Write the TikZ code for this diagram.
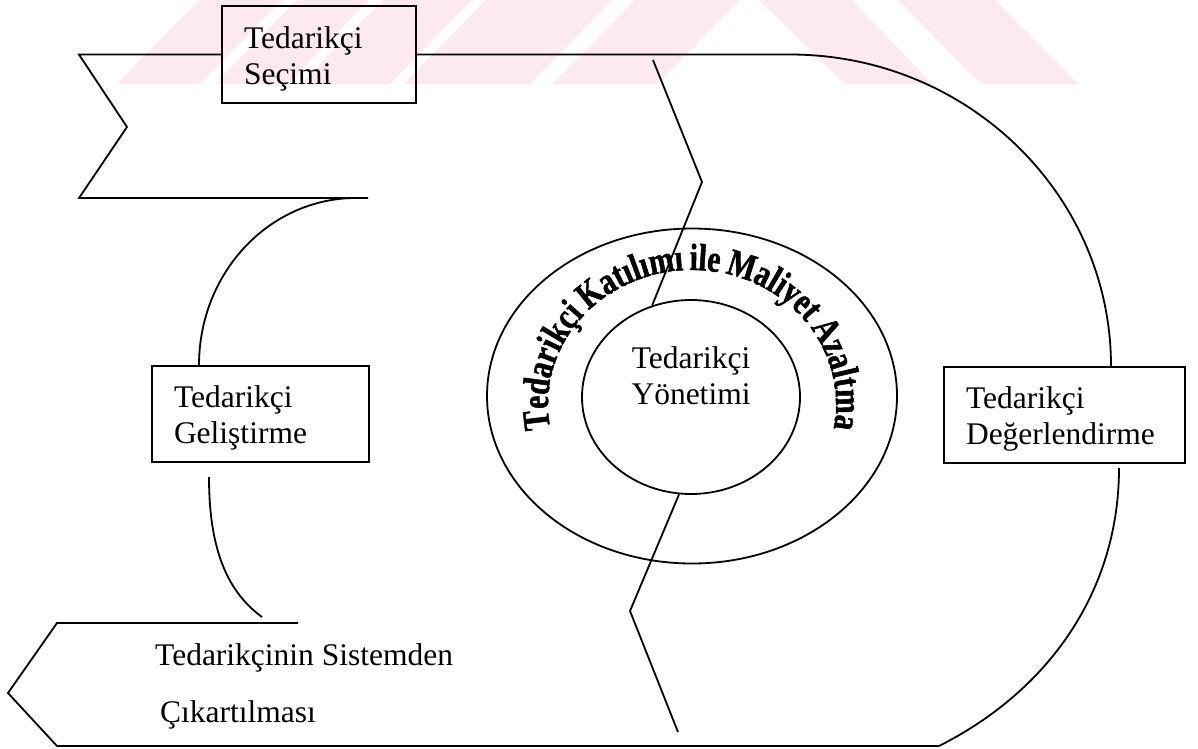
\documentclass[tikz,border=0pt]{standalone}
\usepackage{fontspec}
\setmainfont{Liberation Serif}
\newfontfamily\arcfont{Liberation Serif}[FakeStretch=0.78, WordSpace=0.8, FakeBold=1.2]
\usetikzlibrary{decorations.text,shapes.geometric}
\definecolor{wmpink}{RGB}{253,234,238}
\tikzset{
  ln/.style={line width=1.8pt, line join=miter, line cap=butt},
  boxnode/.style={draw, line width=1.8pt, rectangle, inner ysep=0pt, inner xsep=22pt, align=left, font=\fontsize{31.5}{36}\selectfont},
  lbl/.style={inner sep=0pt, font=\fontsize{31.5}{36}\selectfont},
  ring/.style={draw, ellipse, line width=1.8pt, inner sep=0pt},
  wmstripe/.style={fill=wmpink, draw=none},
}
\begin{document}
\begin{tikzpicture}[x=1pt,y=-1pt]
\useasboundingbox (0,0) rectangle (1198,748);
% faint watermark band
\fill[wmstripe] (117,84) -- (199,0) -- (282,0) -- (200,84) -- cycle;
\fill[wmstripe] (215,84) -- (297,0) -- (369,0) -- (287,84) -- cycle;
\fill[wmstripe] (301,84) -- (383,0) -- (472,0) -- (390,84) -- cycle;
\fill[wmstripe] (404,84) -- (486,0) -- (612,0) -- (530,84) -- cycle;
\fill[wmstripe] (553,84) -- (635,0) -- (740,0) -- (657,84) -- cycle;
\fill[wmstripe] (759,0) -- (852,0) -- (932,84) -- (845,84) -- cycle;
\fill[wmstripe] (898,0) -- (995,0) -- (1078,84) -- (981,84) -- cycle;

% boxes
\node[boxnode, text width=150pt, minimum height=97pt] (sec) at (319,54.5) {\rule{0pt}{30pt}Tedarikçi\\Seçimi};
\node[boxnode, text width=173pt, minimum height=96pt] (gel) at (260.5,414) {\rule{0pt}{30pt}Tedarikçi\\Geliştirme};
\node[boxnode, text width=197pt, minimum height=96pt] (deg) at (1064.5,415) {\rule{0pt}{30pt}Tedarikçi\\Değerlendirme};

% circles
\node[ring, minimum width=410pt, minimum height=335pt] (kat) at (692,396) {};
\node[ring, minimum width=218pt, minimum height=194pt] (yon) at (691,397) {};
\node[lbl, align=center] (yont) at (691,376) {Tedarikçi\\Yönetimi};

% bottom ribbon text
\node[lbl, anchor=base west] (cik1) at (155,665) {Tedarikçinin Sistemden};
\node[lbl, anchor=base west] (cik2) at (160,722) {Çıkartılması};

% coordinates
\coordinate (tl1) at (79,54.5);
\coordinate (notch1) at (127,127);
\coordinate (bl1) at (79,198);
\coordinate (be1) at (368,198);
\coordinate (rs) at (790,54.5);
\coordinate (br) at (939,746);
\coordinate (bt) at (298,623);
\coordinate (btl) at (57,623);
\coordinate (bpt) at (8,693);
\coordinate (bbl) at (57,746);
\coordinate (la) at (356,198);
\coordinate (lb1) at (209,477);
\coordinate (lb2) at (262,617);
\coordinate (za) at (653,60);
\coordinate (zb) at (702,182);
\coordinate (zc) at (630,611);
\coordinate (zd) at (678,732);

% top ribbon
\draw[ln] (sec.west) -- (tl1) -- (notch1) -- (bl1) -- (be1);
\draw[ln] (sec.east) -- (rs) .. controls (967,54.5) and (1111,194) .. ([xshift=46.5pt]deg.north);
% right lower arc and bottom ribbon
\draw[ln] ([xshift=54.5pt,yshift=-4pt]deg.south) .. controls (1119,590) and (1050,690) .. (br);
\draw[ln] (bt) -- (btl) -- (bpt) -- (bbl) -- (br);
% left arcs
\draw[ln] (la) .. controls (269,198) and (199,273) .. ([xshift=-61.5pt]gel.north);
\draw[ln] (lb1) .. controls (209,545) and (225,590) .. (lb2);
% zigzags
\draw[ln] (za) -- (zb) -- (yon.113);
\draw[ln] (yon.263) -- (zc) -- (zd);

% curved text
\path[decorate, decoration={text along path, text align=center,
  text={|\arcfont\bfseries\fontsize{38}{38}\selectfont|Tedarikçi Katılımı ile Maliyet Azaltma}}]
  (692,404) ++(150:144 and 134) arc[start angle=150, end angle=390, x radius=144, y radius=134];
\end{tikzpicture}
\end{document}
